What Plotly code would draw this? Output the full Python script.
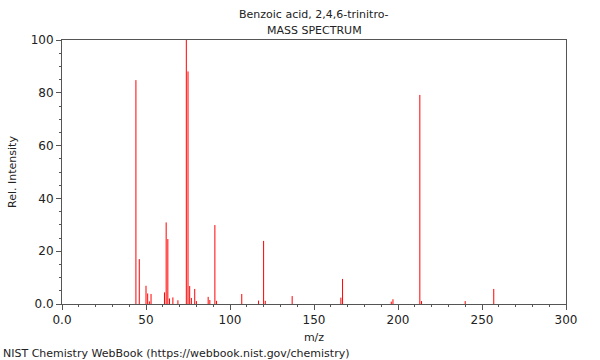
import plotly.graph_objects as go

title_line1 = "Benzoic acid, 2,4,6-trinitro-"
title_line2 = "MASS SPECTRUM"
footer = "NIST Chemistry WebBook (https://webbook.nist.gov/chemistry)"

mz = [44, 46, 50, 51, 52, 53, 61, 62, 63, 64, 66, 69, 74, 75, 76, 77, 79, 80,
      87, 88, 91, 92, 107, 117, 120, 121, 137, 166, 167, 196, 197, 213, 214, 240, 257]
intensity = [84.8, 17.0, 6.9, 4.0, 1.0, 3.8, 4.4, 30.9, 24.6, 2.1, 2.5, 1.4, 100.0, 88.1, 6.8, 2.3, 5.7, 1.1,
             2.7, 1.5, 29.9, 1.2, 3.8, 1.3, 23.9, 1.2, 3.0, 2.4, 9.5, 0.9, 1.8, 79.2, 1.1, 1.1, 5.7]

x_tickvals = [0, 50, 100, 150, 200, 250, 300]
x_ticktext = ["0.0", "50", "100", "150", "200", "250", "300"]
y_tickvals = [0, 20, 40, 60, 80, 100]
y_ticktext = ["0.0", "20", "40", "60", "80", "100"]

xs, ys = [], []
for m, h in zip(mz, intensity):
    xs += [m, m, None]
    ys += [0, h, None]

FONT = "DejaVu Sans"
W, H = 600, 360
ML, MR, MT, MB = 62, 34, 40, 56

fig = go.Figure()
fig.add_trace(go.Scatter(x=xs, y=ys, mode="lines",
                         line=dict(color="#ff0000", width=1),
                         hoverinfo="skip", showlegend=False))

axis_common = dict(showgrid=False, zeroline=False, showline=True, mirror=True,
                   linecolor="#555555", linewidth=1, ticks="outside",
                   tickcolor="#555555", tickwidth=1, ticklen=5, automargin=False,
                   tickfont=dict(family=FONT, size=12, color="#222222"))

H_plot = H - MT - MB
W_plot = W - ML - MR
def ypaper(px_from_top):
    return (H - MB - px_from_top) / H_plot
def xpaper(px_from_left):
    return (px_from_left - ML) / W_plot

fig.update_layout(
    width=W, height=H,
    margin=dict(l=ML, r=MR, t=MT, b=MB),
    paper_bgcolor="white", plot_bgcolor="white",
    font=dict(family=FONT, size=11, color="#222222"),
    xaxis=dict(range=[0, 300], tickmode="array", tickvals=x_tickvals, ticktext=x_ticktext,
               title=dict(text="m/z", font=dict(family=FONT, size=11), standoff=6),
               minor=dict(dtick=10, tick0=0, ticks="outside", ticklen=2, tickcolor="#555555"),
               **axis_common),
    yaxis=dict(range=[0, 100], tickmode="array", tickvals=y_tickvals, ticktext=y_ticktext,
               title=dict(text="Rel. Intensity", font=dict(family=FONT, size=11), standoff=11),
               minor=dict(dtick=5, tick0=0, ticks="outside", ticklen=2, tickcolor="#555555"),
               **axis_common),
    annotations=[
        dict(text=title_line1, xref="paper", yref="paper", x=0.5, y=ypaper(14),
             yanchor="middle", showarrow=False, font=dict(family=FONT, size=11)),
        dict(text=title_line2, xref="paper", yref="paper", x=0.5, y=ypaper(30),
             yanchor="middle", showarrow=False, font=dict(family=FONT, size=11)),
        dict(text=footer, xref="paper", yref="paper", x=xpaper(1), y=ypaper(353),
             xanchor="left", yanchor="middle", showarrow=False, font=dict(family=FONT, size=11)),
    ],
)

fig.write_html("out.html", config={"displayModeBar": False},
               post_script="document.body.style.margin='0';")
